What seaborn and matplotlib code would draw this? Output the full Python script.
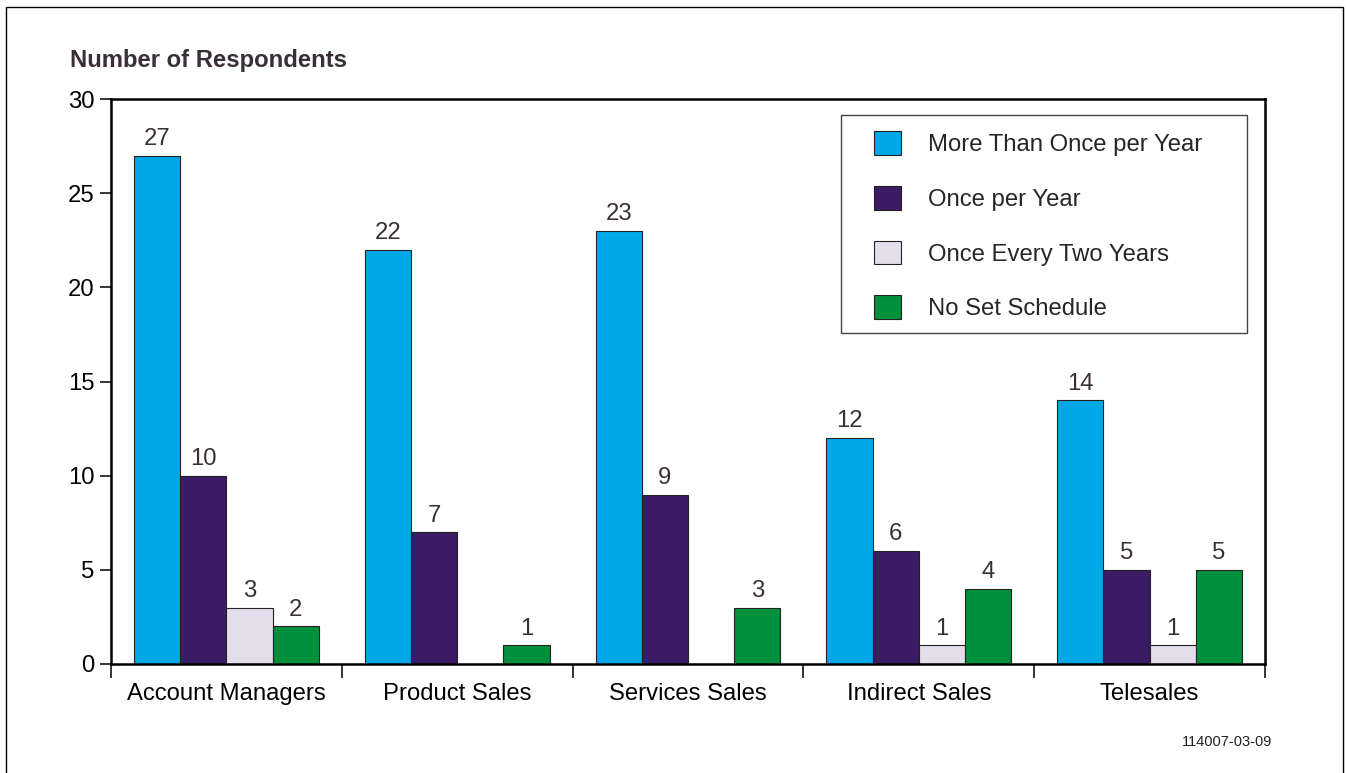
import numpy as np
import pandas as pd
import matplotlib
matplotlib.use("Agg")
import matplotlib.pyplot as plt
from matplotlib.patches import Rectangle
import seaborn as sns

# Survey results: how often each sales group is reviewed
groups = ["Account Managers", "Product Sales", "Services Sales", "Indirect Sales", "Telesales"]
series = ["More Than Once per Year", "Once per Year", "Once Every Two Years", "No Set Schedule"]
more_than_once = [27, 22, 23, 12, 14]
once_per_year = [10, 7, 9, 6, 5]
once_every_two = [3, 0, 0, 1, 1]
no_set_schedule = [2, 1, 3, 4, 5]
y_ticks = [0, 5, 10, 15, 20, 25, 30]

colors = ["#00A8E6", "#3B1B63", "#E3DEEB", "#00903B"]

values_by_series = [more_than_once, once_per_year, once_every_two, no_set_schedule]
df = pd.DataFrame({
    "group": np.repeat([groups], len(series), axis=0).ravel(),
    "series": np.repeat(series, len(groups)),
    "value": np.concatenate(values_by_series),
})

sns.set_theme(style="white")
plt.rcParams["font.family"] = ["Liberation Sans", "DejaVu Sans"]

FS = 17.2
W, H = 1346, 773
fig = plt.figure(figsize=(W / 100, H / 100), dpi=100)
ax = fig.add_axes([111 / W, 1 - 664 / H, (1265 - 111) / W, (664 - 99) / H])

sns.barplot(data=df, x="group", y="value", hue="series", order=groups,
            hue_order=series, palette=colors, saturation=1, width=0.8,
            edgecolor="#222222", linewidth=0.8, errorbar=None, ax=ax, legend=True)

# value labels above each non-zero bar
for container in ax.containers:
    labels = [f"{v:g}" if v > 0 else "" for v in container.datavalues]
    ax.bar_label(container, labels=labels, padding=4, fontsize=FS, color="#3a2f38")

ax.set_xlim(-0.5, len(groups) - 0.5)
ax.set_ylim(0, 30)
ax.set_yticks(y_ticks)
ax.set_xlabel("")
ax.set_ylabel("")

ax.set_xticks(range(len(groups)))
ax.set_xticklabels(groups)
ax.set_xticks(np.arange(-0.5, len(groups)), minor=True)
ax.tick_params(axis="x", which="major", length=0, pad=14, labelsize=FS, labelcolor="black")
ax.tick_params(axis="x", which="minor", length=10, width=1.1, color="black", direction="out",
               bottom=True)
ax.tick_params(axis="y", which="major", length=8, width=1.1, color="black", direction="out",
               left=True, pad=4, labelsize=FS, labelcolor="black")

for side in ["left", "right", "top", "bottom"]:
    ax.spines[side].set_visible(True)
    ax.spines[side].set_color("black")
    ax.spines[side].set_linewidth(1.8)

# legend with its own frame
handles, labels = ax.get_legend_handles_labels()
ax.get_legend().remove()
fig.legend(handles, labels, loc="upper left", bbox_to_anchor=(874 / W, 1 - 131 / H),
           bbox_transform=fig.transFigure, frameon=False, fontsize=FS,
           handlelength=1.15, handleheight=1.15, handletextpad=1.12,
           labelspacing=1.25, borderpad=0, borderaxespad=0)
fig.patches.append(Rectangle((841 / W, 1 - 333 / H), (1247 - 841) / W, (333 - 115) / H,
                             transform=fig.transFigure, fill=True, facecolor="white",
                             edgecolor="#444444", linewidth=1.0, zorder=0.5))

fig.text(70 / W, 1 - 60 / H, "Number of Respondents", fontsize=FS, fontweight="bold",
         color="#3a2f38", ha="left", va="center")
fig.text(1272 / W, 1 - 742 / H, "114007-03-09", fontsize=10.5, color="#222222",
         ha="right", va="center")

# outer frame
fig.patches.append(Rectangle((6 / W, -0.02), (1343 - 6) / W, 1 - 7 / H + 0.02,
                             transform=fig.transFigure, fill=False, edgecolor="black",
                             linewidth=1.0))

fig.savefig("out.png", dpi=100)
